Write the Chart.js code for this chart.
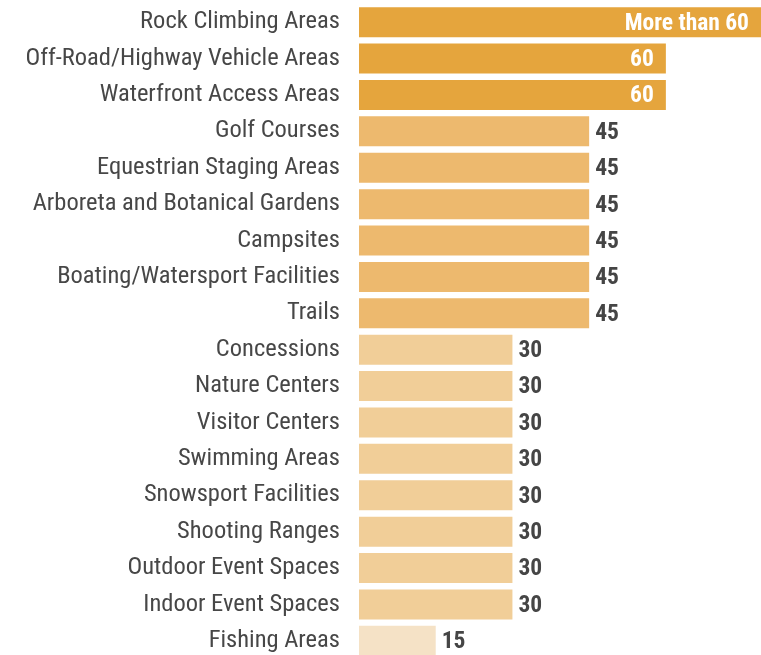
<!DOCTYPE html>
<html lang="en">
<head>
    <meta charset="UTF-8">
    <title>Areas chart</title>
    <script src="https://cdn.jsdelivr.net/npm/chart.js"></script>
    <style>
        html, body {
            margin: 0;
            padding: 0;
            background: #fff;
            overflow: hidden;
        }
        canvas {
            display: block;
        }
    </style>
</head>
<body>
    <canvas id="areasChart" width="761" height="660"></canvas>
    <script>
        const categories = [
            'Rock Climbing Areas', 'Off-Road/Highway Vehicle Areas', 'Waterfront Access Areas',
            'Golf Courses', 'Equestrian Staging Areas', 'Arboreta and Botanical Gardens',
            'Campsites', 'Boating/Watersport Facilities', 'Trails', 'Concessions',
            'Nature Centers', 'Visitor Centers', 'Swimming Areas', 'Snowsport Facilities',
            'Shooting Ranges', 'Outdoor Event Spaces', 'Indoor Event Spaces', 'Fishing Areas'
        ];
        const values = [78.6, 60, 60, 45, 45, 45, 45, 45, 45, 30, 30, 30, 30, 30, 30, 30, 30, 15];
        const valueLabels = ['More than 60', '60', '60', '45', '45', '45', '45', '45', '45',
            '30', '30', '30', '30', '30', '30', '30', '30', '15'];

        const fontFamily = '"Liberation Sans Narrow", "Roboto Condensed", "DejaVu Sans Condensed", Arial, sans-serif';

        function barColor(v) {
            if (v >= 60) return '#E5A53D';
            if (v >= 45) return '#EDB96E';
            if (v >= 30) return '#F1CE98';
            return '#F5E2C6';
        }

        // labels: inside (white) for the long bars, outside (dark) for the rest
        const valueLabelPlugin = {
            id: 'valueLabels',
            afterDatasetsDraw(chart) {
                const ctx = chart.ctx;
                const meta = chart.getDatasetMeta(0);
                ctx.save();
                ctx.font = 'bold 23.5px ' + fontFamily;
                ctx.textBaseline = 'middle';
                meta.data.forEach((bar, i) => {
                    const v = values[i];
                    if (v >= 60) {
                        ctx.fillStyle = '#ffffff';
                        ctx.textAlign = 'right';
                        ctx.fillText(valueLabels[i], bar.x - 12, bar.y + 1.5);
                    } else {
                        ctx.fillStyle = '#454545';
                        ctx.textAlign = 'left';
                        ctx.fillText(valueLabels[i], bar.x + 6, bar.y + 1.5);
                    }
                });
                ctx.restore();
            }
        };

        const ctx = document.getElementById('areasChart').getContext('2d');
        new Chart(ctx, {
            type: 'bar',
            data: {
                labels: categories,
                datasets: [{
                    data: values,
                    backgroundColor: values.map(barColor),
                    borderWidth: 0,
                    barPercentage: 0.825,
                    categoryPercentage: 1
                }]
            },
            options: {
                indexAxis: 'y',
                responsive: false,
                animation: false,
                layout: { padding: { top: 4, bottom: 1, left: 0, right: 0 } },
                plugins: {
                    legend: { display: false },
                    tooltip: { enabled: false }
                },
                scales: {
                    x: {
                        display: false,
                        min: 0,
                        max: 78.6
                    },
                    y: {
                        grid: { display: false, drawTicks: false },
                        border: { display: false },
                        ticks: {
                            color: '#474747',
                            padding: 19,
                            autoSkip: false,
                            font: { family: fontFamily, size: 24.5 }
                        },
                        afterFit(scale) {
                            scale.width = 359;
                            scale.paddingTop = 0;
                            scale.paddingBottom = 0;
                        }
                    }
                }
            },
            plugins: [valueLabelPlugin]
        });
    </script>
</body>
</html>
